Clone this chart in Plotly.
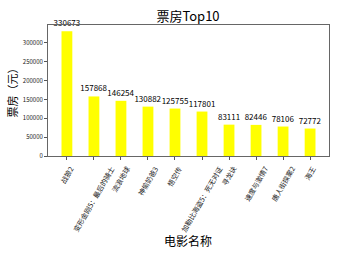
import plotly.graph_objects as go

movies = ["战狼2", "变形金刚5：最后的骑士", "流浪地球", "神偷奶爸3", "悟空传",
          "加勒比海盗5：死无对证", "寻龙诀", "速度与激情7", "唐人街探案2", "海王"]
box_office = [330673, 157868, 146254, 130882, 125755, 117801, 83111, 82446, 78106, 72772]
y_ticks = [0, 50000, 100000, 150000, 200000, 250000, 300000]

FONT = "Noto Sans CJK SC, SimHei, sans-serif"
L, R, T, B = 48, 9, 25, 97
PW, PH = 338 - L - R, 253 - T - B

fig = go.Figure()
fig.add_trace(go.Bar(
    x=list(range(len(movies))), y=box_office,
    marker=dict(color="#ffff00", line=dict(width=0)),
    width=0.4,
    text=[str(v) for v in box_office], textposition="outside",
    textfont=dict(size=8, color="#000000", family=FONT),
    constraintext="none", cliponaxis=False,
))

fig.update_layout(
    width=338, height=253,
    margin=dict(l=L, r=R, t=T, b=B),
    plot_bgcolor="white", paper_bgcolor="white",
    showlegend=False,
    font=dict(family=FONT, color="#000000"),
    title=dict(text="票房Top10", x=188 / 338, xanchor="center",
               y=1 - 16 / 253, yanchor="middle",
               font=dict(size=13, family=FONT, color="#000000")),
)
fig.update_xaxes(
    range=[-0.7, 9.7],
    tickmode="array", tickvals=list(range(len(movies))), showticklabels=False,
    ticks="outside", ticklen=3, tickcolor="#555555",
    showline=True, linecolor="#666666", linewidth=1, mirror=True,
    showgrid=False, zeroline=False,
)
fig.update_yaxes(
    range=[0, 347206],
    tickmode="array", tickvals=y_ticks, ticktext=[str(v) for v in y_ticks],
    tickfont=dict(size=6, family=FONT, color="#222222"),
    ticks="outside", ticklen=3, tickcolor="#555555",
    showline=True, linecolor="#666666", linewidth=1, mirror=True,
    showgrid=False, zeroline=False,
)
# rotated category labels, centred under each tick (matplotlib-style)
for i, name in enumerate(movies):
    fig.add_annotation(text=name, x=i, y=0, xref="x", yref="y",
                       xanchor="center", yanchor="top", yshift=-6,
                       textangle=-60, showarrow=False,
                       font=dict(size=7, family=FONT, color="#222222"))
fig.add_annotation(text="票房（元）", x=(11 - L) / PW, y=0.5, xref="paper", yref="paper",
                   xanchor="center", yanchor="middle", textangle=-90, showarrow=False,
                   font=dict(size=11, family=FONT, color="#000000"))
fig.add_annotation(text="电影名称", x=(188 - L) / PW, y=-(240 - 156) / PH, xref="paper", yref="paper",
                   xanchor="center", yanchor="middle", showarrow=False,
                   font=dict(size=12, family=FONT, color="#000000"))

fig.write_html("out.html")
